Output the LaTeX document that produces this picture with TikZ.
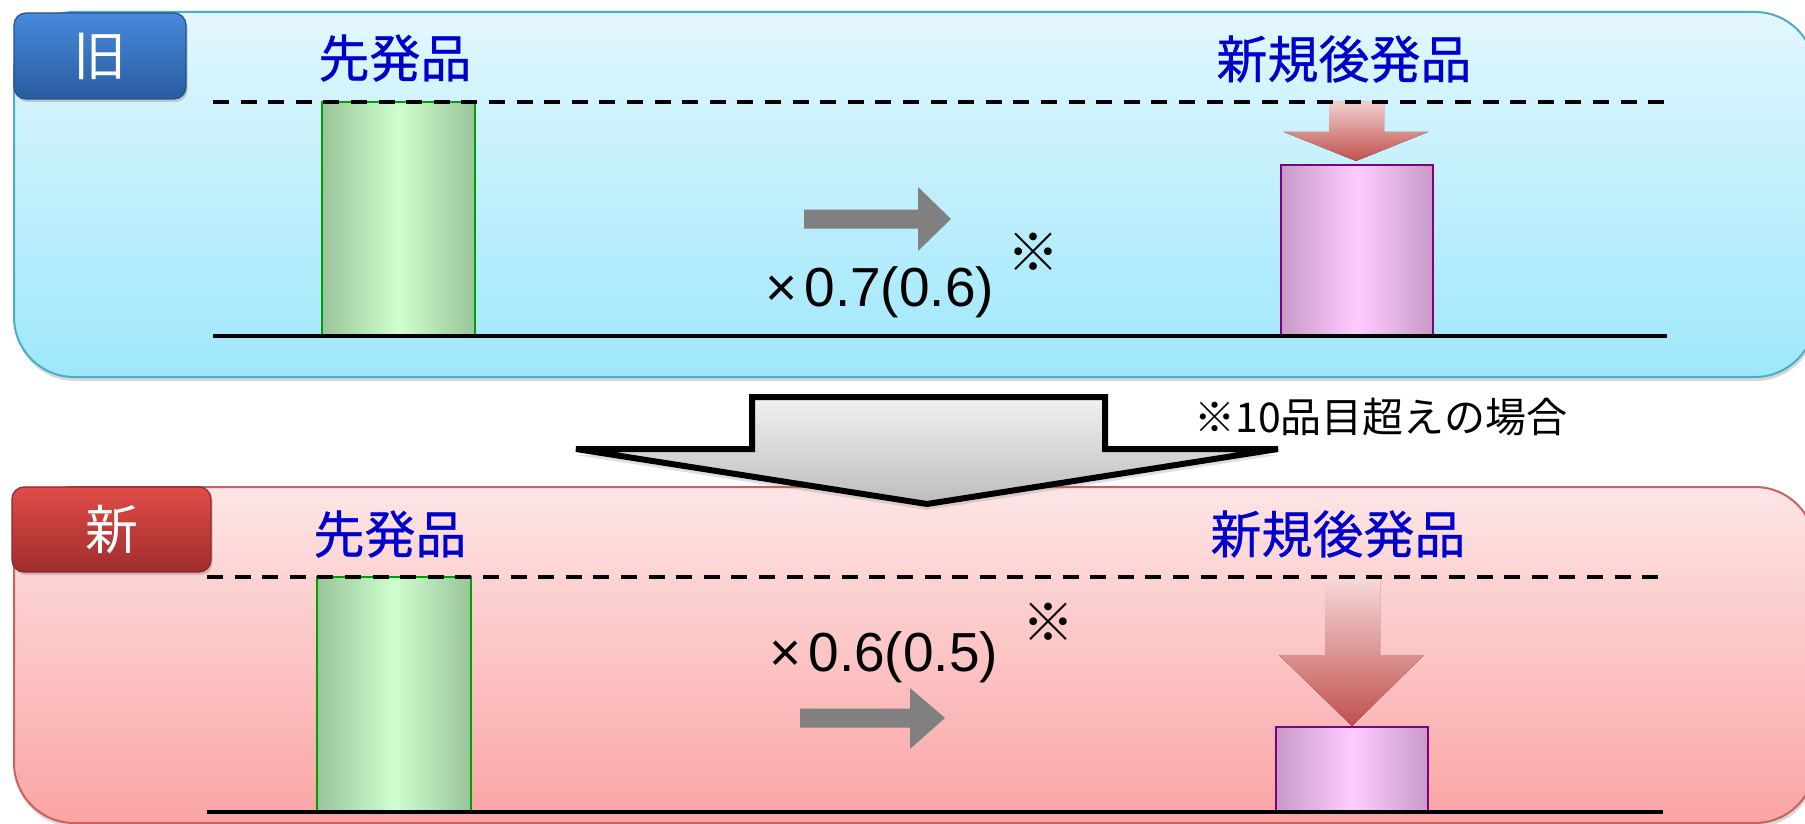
\documentclass[tikz,border=0pt]{standalone}
\usepackage{fontspec}
\setmainfont{Liberation Sans}
\newfontfamily\jp{Noto Sans CJK JP}
\newfontfamily\jphead{Noto Sans CJK JP}[FakeBold=0.6]
\usetikzlibrary{shadows}
\definecolor{panAtop}{RGB}{226,247,253}
\definecolor{panAbot}{RGB}{158,231,251}
\definecolor{panAline}{RGB}{75,172,198}
\definecolor{panBtop}{RGB}{253,229,229}
\definecolor{panBbot}{RGB}{251,164,164}
\definecolor{panBline}{RGB}{205,95,92}
\definecolor{labAtop}{RGB}{72,138,220}
\definecolor{labAbot}{RGB}{40,92,160}
\definecolor{labAline}{RGB}{40,80,140}
\definecolor{labBtop}{RGB}{224,76,73}
\definecolor{labBbot}{RGB}{160,44,44}
\definecolor{labBline}{RGB}{140,40,40}
\definecolor{headblue}{RGB}{0,0,204}
\definecolor{gEdge}{RGB}{154,196,154}
\definecolor{gMid}{RGB}{206,255,206}
\definecolor{gLine}{RGB}{0,160,0}
\definecolor{pEdge}{RGB}{200,154,200}
\definecolor{pMid}{RGB}{255,204,255}
\definecolor{pLine}{RGB}{128,0,128}
\definecolor{redtip}{RGB}{192,80,77}
\definecolor{redtopA}{RGB}{242,206,206}
\definecolor{redtopB}{RGB}{247,218,218}
\definecolor{arrgray}{RGB}{128,128,128}
\definecolor{bigtop}{RGB}{242,242,242}
\definecolor{bigbot}{RGB}{188,188,188}
\begin{document}
\begin{tikzpicture}[x=0.5pt,y=-0.5pt,
  panel/.style={rounded corners=30pt, line width=1pt,
    drop shadow={opacity=0.3, shadow xshift=0.5pt, shadow yshift=-2pt}},
  labbox/.style={rounded corners=6pt, inner sep=0pt, line width=0.6pt, text=white,
    font=\jp\fontsize{26.5}{26.5}\selectfont,
    drop shadow={opacity=0.35, shadow xshift=0.8pt, shadow yshift=-1.5pt}},
  head/.style={text=headblue, inner sep=0pt, font=\jphead\fontsize{25.5}{25.5}\selectfont},
  factor/.style={inner sep=0pt, font=\fontsize{27.5}{27.5}\selectfont},
  kome/.style={inner sep=0pt, font=\jp\fontsize{26}{26}\selectfont},
  note/.style={inner sep=0pt, font=\jp\fontsize{20.5}{20.5}\selectfont},
  greenbar/.style={draw=gLine, line width=0.8pt, left color=gEdge, right color=gEdge, middle color=gMid},
  pinkbar/.style={draw=pLine, line width=0.8pt, left color=pEdge, right color=pEdge, middle color=pMid},
  grayarrow/.style={fill=arrgray},
  dashline/.style={line width=2.2pt, dash pattern=on 8pt off 5.8pt},
  baseline/.style={line width=2.3pt},
  bigarrow/.style={line width=3pt, line join=miter, draw=black, top color=bigtop, bottom color=bigbot,
    drop shadow={opacity=0.25, shadow xshift=0pt, shadow yshift=-3pt}}
]
\useasboundingbox (0,0) rectangle (1805,824);
\clip (0,0) rectangle (1805,824);
\fill[white] (0,0) rectangle (1805,824);

% ---------- top panel ----------
\path[panel, draw=panAline, top color=panAtop, bottom color=panAbot]
  (14,12) rectangle (1815,377);
\node[labbox, draw=labAline, top color=labAtop, bottom color=labAbot,
  minimum width=86pt, minimum height=43pt] (old) at (100,56) {旧};
\node[head] (firstA) at (395,58) {先発品};
\node[head] (newA) at (1344,59) {新規後発品};

\path[greenbar] (322,102) rectangle (475,336);
\path[pinkbar] (1281,165) rectangle (1433,336);

\fill[top color=redtopA, bottom color=redtip]
  (1329,102) -- (1384,102) -- (1384,132) -- (1428,132) -- (1356,161)
  -- (1284,132) -- (1329,132) -- cycle;

\fill[grayarrow] (804,209.5) -- (918,209.5) -- (918,187) -- (951,219)
  -- (918,251) -- (918,228.5) -- (804,228.5) -- cycle;
\node[factor] (facA) at (880,292) {×\hspace{0.12em}0.7(0.6)};
\node[kome] (komeA) at (1033,252) {※};

\draw[dashline] (213,102) -- (1667,102);
\draw[baseline] (213,336) -- (1667,336);

% ---------- bottom panel ----------
\path[panel, draw=panBline, top color=panBtop, bottom color=panBbot]
  (14,487) rectangle (1815,823);
\node[labbox, draw=labBline, top color=labBtop, bottom color=labBbot,
  minimum width=99.5pt, minimum height=42.5pt] (new) at (111.5,529.5) {新};
\node[head] (firstB) at (390,534) {先発品};
\node[head] (newB) at (1338,534) {新規後発品};

\path[greenbar] (317,577) rectangle (471,812);
\path[pinkbar] (1276,727) rectangle (1428,812);

\fill[top color=redtopB, bottom color=redtip]
  (1325,577) -- (1380,577) -- (1380,655) -- (1424,655) -- (1352,726)
  -- (1279,655) -- (1325,655) -- cycle;

\fill[grayarrow] (800,708.5) -- (910,708.5) -- (910,688) -- (945,718)
  -- (910,749) -- (910,727.5) -- (800,727.5) -- cycle;
\node[factor] (facB) at (884,657) {×\hspace{0.12em}0.6(0.5)};
\node[kome] (komeB) at (1048,622) {※};

\draw[dashline] (207,577) -- (1663,577);
\draw[baseline] (207,812) -- (1663,812);

% ---------- transition arrow ----------
\path[bigarrow] (576,449) -- (752,449) -- (752,397) -- (1105,397) -- (1105,449)
  -- (1278,449) -- (927,504) -- cycle;
\node[note] (cond) at (1381,417) {※10品目超えの場合};
\end{tikzpicture}
\end{document}
